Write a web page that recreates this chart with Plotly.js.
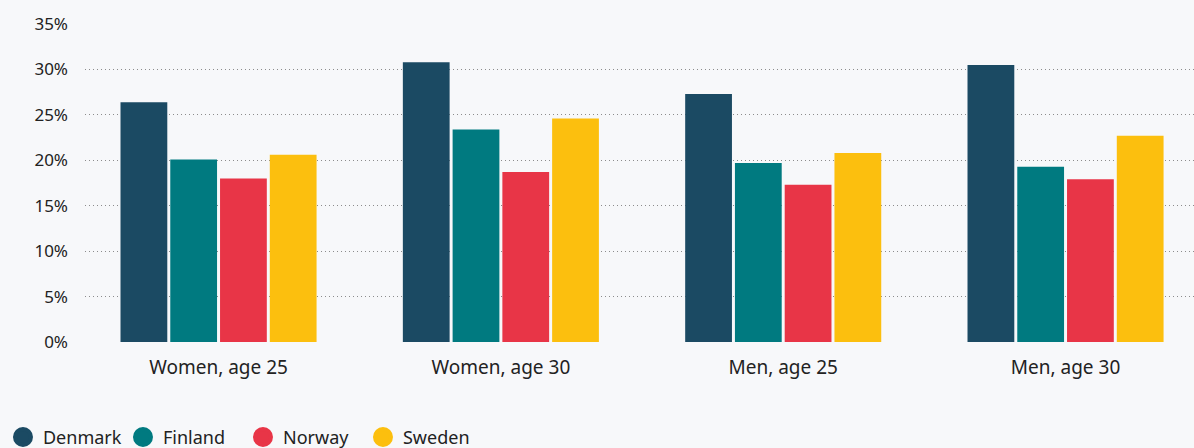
<!DOCTYPE html>
<html>
<head>
<meta charset="utf-8">
<script src="https://cdn.plot.ly/plotly-3.0.1.min.js"></script>
<style>
html,body{margin:0;padding:0;background:#f7f8fa;}
#chart{width:1194px;height:448px;}
</style>
</head>
<body>
<div id="chart"></div>
<script>
const categories = ["Women, age 25", "Women, age 30", "Men, age 25", "Men, age 30"];
const denmark = [26.4, 30.8, 27.3, 30.5];
const finland = [20.1, 23.4, 19.7, 19.3];
const norway  = [18.0, 18.7, 17.3, 17.9];
const sweden  = [20.6, 24.6, 20.8, 22.7];
const seriesNames = ["Denmark", "Finland", "Norway", "Sweden"];
const seriesColors = ["#1b4a63", "#007a80", "#e83547", "#fcbf0e"];
const yTicks = [0, 5, 10, 15, 20, 25, 30, 35];
const yTickLabels = ["0%", "5%", "10%", "15%", "20%", "25%", "30%", "35%"];

const seriesValues = [denmark, finland, norway, sweden];
const font = "'Noto Sans', 'Open Sans', sans-serif";

const traces = [];
seriesValues.forEach((vals, i) => {
  traces.push({
    type: "bar",
    name: seriesNames[i],
    x: categories,
    y: vals,
    marker: {color: seriesColors[i], line: {width: 0}},
    showlegend: false,
    hovertemplate: "%{x}<br>" + seriesNames[i] + ": %{y}%<extra></extra>"
  });
});
seriesValues.forEach((vals, i) => {
  traces.push({
    type: "scatter",
    mode: "markers",
    name: seriesNames[i],
    x: [null],
    y: [null],
    marker: {color: seriesColors[i], size: 16, symbol: "circle", line: {color: seriesColors[i], width: 4}},
    showlegend: true,
    hoverinfo: "skip"
  });
});

const layout = {
  width: 1194,
  height: 448,
  paper_bgcolor: "#f7f8fa",
  plot_bgcolor: "#f7f8fa",
  margin: {l: 85, r: 0, t: 24, b: 106},
  font: {family: font, color: "#222222", size: 16},
  barmode: "group",
  bargap: 0.295,
  bargroupgap: 0.06,
  showlegend: true,
  legend: {
    orientation: "h",
    x: 0.0025,
    xref: "container",
    xanchor: "left",
    y: 0.024,
    yref: "container",
    yanchor: "middle",
    entrywidth: 75,
    entrywidthmode: "pixels",
    font: {size: 18, color: "#222222"},
    bgcolor: "rgba(0,0,0,0)",
    itemclick: false
  },
  xaxis: {
    type: "category",
    range: [-0.473, 3.455],
    showgrid: false,
    zeroline: false,
    showline: false,
    ticks: "",
    tickfont: {size: 19, color: "#222222"},
    ticklabelstandoff: 12,
    fixedrange: true
  },
  yaxis: {
    range: [0, 35],
    tickvals: yTicks,
    ticktext: yTickLabels,
    showgrid: true,
    gridcolor: "#8c8c8c",
    gridwidth: 1,
    griddash: "1px,3px",
    zeroline: false,
    showline: false,
    ticks: "",
    tickfont: {size: 17, color: "#222222"},
    ticklabelstandoff: 16,
    fixedrange: true
  }
};

Plotly.newPlot("chart", traces, layout, {displayModeBar: false, staticPlot: false});
</script>
</body>
</html>
